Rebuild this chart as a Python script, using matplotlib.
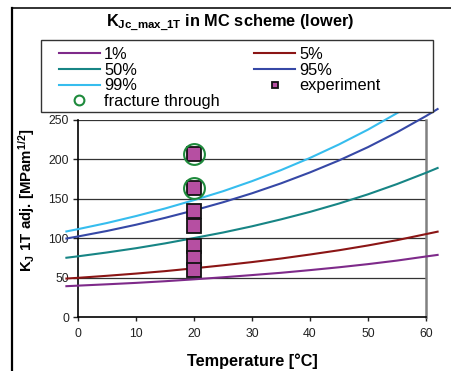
import matplotlib
matplotlib.use("Agg")
import matplotlib.pyplot as plt
from matplotlib.lines import Line2D
from matplotlib.patches import Rectangle

plt.rcParams['font.family'] = ['Liberation Sans', 'DejaVu Sans']
plt.rcParams['mathtext.fontset'] = 'custom'
plt.rcParams['mathtext.rm'] = 'Liberation Sans'
plt.rcParams['mathtext.bf'] = 'Liberation Sans:bold'
plt.rcParams['mathtext.it'] = 'Liberation Sans:italic'

# ---- data ----
temps = [-2, 0, 5, 10, 15, 20, 25, 30, 35, 40, 45, 50, 55, 60, 62]
k_1 = [39.1, 39.8, 41.5, 43.3, 45.4, 47.8, 50.4, 53.2, 56.1, 59.5, 63.1, 67.1, 71.6, 76.8, 78.8]
k_5 = [48.8, 49.7, 52.3, 55.1, 58.2, 61.8, 65.6, 69.7, 74.2, 79.3, 84.7, 90.8, 97.5, 105.2, 108.3]
k_50 = [75.2, 77.0, 81.9, 87.3, 93.4, 100.2, 107.2, 115.1, 123.9, 133.4, 144.0, 155.7, 168.7, 183.0, 189.1]
k_95 = [99.6, 102.2, 109.2, 117.1, 125.8, 135.3, 145.6, 157.0, 169.6, 183.5, 198.7, 215.6, 234.4, 255.0, 263.9]
temps_99 = [-2, 0, 5, 10, 15, 20, 25, 30, 35, 40, 45, 50, 55, 58]
k_99 = [108.6, 111.5, 119.3, 128.1, 137.7, 148.3, 159.6, 172.4, 186.4, 201.9, 219.0, 237.8, 258.7, 272.2]

exp_temp = [20, 20, 20, 20, 20, 20, 20]
exp_k = [207.0, 164.0, 134.5, 116.0, 90.0, 75.5, 59.6]
fr_temp = [20, 20]
fr_k = [207.0, 164.0]

xticks = [0, 10, 20, 30, 40, 50, 60]
yticks = [0, 50, 100, 150, 200, 250]

W, H = 451, 371
fig = plt.figure(figsize=(W / 100, H / 100), dpi=100)
fig.patch.set_facecolor('white')

def fx(px):
    return px / W

def fy(py):
    return 1 - py / H

ax = fig.add_axes([fx(78), fy(317), (426 - 78) / W, (317 - 120) / H])
ax.set_xlim(0, 60)
ax.set_ylim(0, 250)

cols = {'1': '#7E2A8A', '5': '#8B1515', '50': '#178585', '95': '#3648A6', '99': '#36BDEE'}
lw = 1.5
l1, = ax.plot(temps, k_1, color=cols['1'], lw=lw, clip_on=False, zorder=3)
l5, = ax.plot(temps, k_5, color=cols['5'], lw=lw, clip_on=False, zorder=3)
l50, = ax.plot(temps, k_50, color=cols['50'], lw=lw, clip_on=False, zorder=3)
l95, = ax.plot(temps, k_95, color=cols['95'], lw=lw, clip_on=False, zorder=3)
l99, = ax.plot(temps_99, k_99, color=cols['99'], lw=lw, clip_on=False, zorder=3)

ex, = ax.plot(exp_temp, exp_k, linestyle='none', marker='s', markersize=9.5,
              markerfacecolor='#B64FA2', markeredgecolor='#111111', markeredgewidth=1.3,
              zorder=5, clip_on=False)
fr, = ax.plot(fr_temp, fr_k, linestyle='none', marker='o', markersize=15,
              markerfacecolor='none', markeredgecolor='#1E8A3C', markeredgewidth=1.5,
              zorder=6, clip_on=False)

# grid and spines
for y in yticks[1:]:
    ax.axhline(y, color='#333333', lw=0.9, zorder=1)
ax.spines['top'].set_visible(False)
ax.spines['right'].set_color('#808080')
ax.spines['right'].set_linewidth(1.8)
ax.spines['left'].set_color('black')
ax.spines['left'].set_linewidth(1.2)
ax.spines['bottom'].set_color('black')
ax.spines['bottom'].set_linewidth(1.2)

ax.set_xticks(xticks)
ax.set_yticks(yticks)
ax.tick_params(axis='x', direction='out', length=3, width=1, pad=5, labelsize=8.8, colors='#222222')
ax.tick_params(axis='y', direction='out', length=3.5, width=1, pad=3, labelsize=8.8, colors='#222222')

fig.text(fx(252), fy(366), 'Temperature [°C]', ha='center', va='baseline',
         fontsize=11.7, fontweight='bold')
fig.text(fx(27), fy(200), r'$\mathbf{K_J}$ 1T adj. [MPam$^{\mathbf{1/2}}$]', ha='center', va='center',
         rotation=90, fontsize=10.8, fontweight='bold')
fig.text(fx(230), fy(23), r'$\mathbf{K_{Jc\_max\_1T}}$ in MC scheme (lower)', ha='center', va='center',
         fontsize=11.8, fontweight='bold')

# legend frame
fig.patches.append(Rectangle((fx(41), fy(112)), (433 - 41) / W, (112 - 40) / H,
                             transform=fig.transFigure, facecolor='white',
                             edgecolor='#333333', linewidth=1.0, zorder=2))
handles = [l1, l50, l99, fr, l5, l95, ex]
labels = ['1%', '50%', '99%', 'fracture through', '5%', '95%', 'experiment']
leg = fig.legend(handles, labels, loc='upper left', bbox_to_anchor=(fx(59), fy(47)),
                 ncol=2, frameon=False, fontsize=11.8, borderpad=0, borderaxespad=0,
                 handlelength=2.5, handletextpad=0.25, columnspacing=2.1,
                 labelspacing=0.04, markerscale=0.47)
leg.set_zorder(3)

# outer frame lines
fig.add_artist(Line2D([fx(12), 1.0], [fy(8), fy(8)], transform=fig.transFigure,
                      color='#222222', lw=1.3))
fig.add_artist(Line2D([fx(12), fx(12)], [fy(8), 0.0], transform=fig.transFigure,
                      color='black', lw=1.6))

fig.savefig('out.png', dpi=100)
